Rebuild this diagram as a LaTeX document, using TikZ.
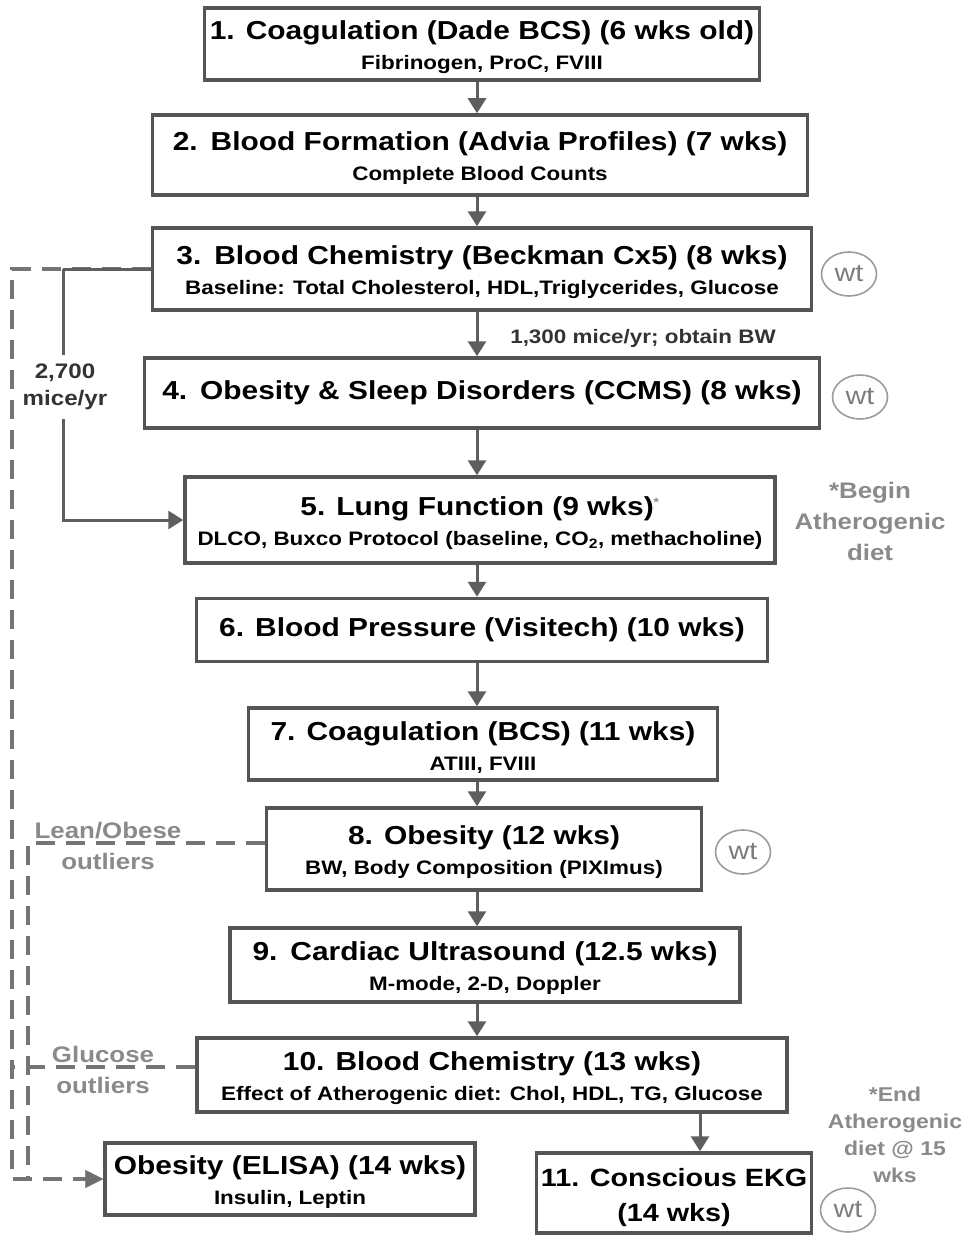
\documentclass[tikz,border=0pt]{standalone}
\usepackage{fontspec}
\setmainfont[FakeStretch=1.15]{Liberation Sans}
\usetikzlibrary{arrows.meta, shapes.geometric}
\definecolor{boxgray}{HTML}{555555}
\definecolor{flowgray}{HTML}{5E5E5E}
\definecolor{notegray}{HTML}{8A8A8A}
\newcommand{\ttlfont}{\fontsize{26}{28}\selectfont\bfseries}
\newcommand{\detail}{\fontsize{19.5}{21}\selectfont\bfseries}
\newcommand{\dietmark}{{\color{notegray}\textsuperscript{\fontsize{12}{12}\selectfont *}}}
\newcommand{\headroom}[1][25pt]{\rule{0pt}{#1}}

\begin{document}
\begin{tikzpicture}[x=1pt, y=-1pt,
    stepbox/.style 2 args={draw=boxgray, line width=3.5pt, fill=white, align=center, inner sep=0pt,
        minimum width=#1, minimum height=#2, font=\ttlfont},
    flow/.style={draw=flowgray, line width=3pt, -{Triangle[width=18pt, length=15pt]}},
    trunk/.style={draw=flowgray, line width=3pt},
    outlier/.style={draw=notegray!85!black, line width=3.5pt, dash pattern=on 19pt off 11pt},
    wt/.style={ellipse, draw=notegray!85, line width=1.6pt, text=notegray!90!black, inner sep=0pt,
        minimum width=55, minimum height=44, font=\fontsize{25}{25}\selectfont},
    note/.style={text=notegray, align=center, font=\fontsize{22.5}{31}\selectfont\bfseries},
    count/.style={text=black!80, align=center, font=\fontsize{19.5}{27}\selectfont\bfseries},
]
\useasboundingbox (0,0) rectangle (965,1236);

% main sequence
\node[stepbox={555}{72}] (coag1) at (482,44) {\headroom 1. Coagulation (Dade BCS) (6 wks old)\\[2pt]\detail Fibrinogen, ProC, FVIII};
\node[stepbox={655}{80}] (blood2) at (480,155) {\headroom 2.\enspace Blood Formation (Advia Profiles) (7 wks)\\[2pt]\detail Complete Blood Counts};
\node[stepbox={659}{82}] (chem3) at (482,269) {\headroom 3.\enspace Blood Chemistry (Beckman Cx5) (8 wks)\\[2pt]\detail Baseline: Total Cholesterol, HDL,Triglycerides, Glucose};
\node[stepbox={675}{70}] (sleep4) at (482,393) {4.\enspace Obesity \& Sleep Disorders (CCMS) (8 wks)};
\node[stepbox={590}{86}] (lung5) at (480,520) {\headroom 5. Lung Function (9 wks)\dietmark\\[2pt]\detail DLCO, Buxco Protocol (baseline, CO\textsubscript{2}, methacholine)};
\node[stepbox={571}{63}] (press6) at (482,630) {6. Blood Pressure (Visitech) (10 wks)};
\node[stepbox={469}{72}] (coag7) at (483,744) {\headroom 7. Coagulation (BCS) (11 wks)\\[2pt]\detail ATIII, FVIII};
\node[stepbox={435}{82}] (obese8) at (484,849) {\headroom 8. Obesity (12 wks)\\[2pt]\detail BW, Body Composition (PIXImus)};
\node[stepbox={510}{74}] (heart9) at (485,965) {\headroom 9.\enspace Cardiac Ultrasound (12.5 wks)\\[2pt]\detail M-mode, 2-D, Doppler};
\node[stepbox={590}{74}] (chem10) at (492,1075) {\headroom 10. Blood Chemistry (13 wks)\\[2pt]\detail Effect of Atherogenic diet: Chol, HDL, TG, Glucose};
\node[stepbox={370}{72}] (elisa) at (290,1179) {\headroom Obesity (ELISA) (14 wks)\\[2pt]\detail Insulin, Leptin};
\node[stepbox={275}{80}, font=\fontsize{25}{27}\selectfont\bfseries] (ekg11) at (674,1193) {\headroom[28pt]11. Conscious EKG\\[8pt](14 wks)};

% weighings and notes
\node[wt] (wt3) at (849,274) {wt};
\node[wt] (wt4) at (860,397) {wt};
\node[wt] (wt8) at (743,852) {wt};
\node[wt] (wt11) at (848,1210) {wt};
\node[count] (bw) at (643,338) {1,300 mice/yr; obtain BW};
\node[note] (begin) at (870,521) {*Begin\\Atherogenic\\diet};
\node[note, font=\fontsize{20}{27}\selectfont\bfseries] (end) at (895,1135) {*End\\Atherogenic\\diet @ 15\\wks};

\coordinate (axis) at (477,0);
\coordinate (axis2) at (700,0);
\coordinate (split) at (63,0);
\coordinate (outer) at (12,0);
\coordinate (inner) at (28,0);

% outlier branches
\draw[outlier] (chem3.west) -- (chem3.west -| outer) -- (elisa.west -| outer) -- (elisa.west);
\draw[outlier] ([yshift=6pt]obese8.west) -- ([yshift=6pt]obese8.west -| inner) -- (inner |- elisa.west);
\draw[outlier] ([yshift=8pt]chem10.west) -- ([yshift=8pt]chem10.west -| outer);
\draw[flowgray!90, -{Triangle[width=18pt, length=18pt]}] ([xshift=-20pt]elisa.west) -- (elisa.west);
\node[note] (lean) at (108,846) {Lean/Obese\\outliers};
\node[note] (gluc) at (103,1070) {Glucose\\outliers};

% 2,700 mice/yr branch
\draw[trunk] (chem3.west) -- (chem3.west -| split);
\draw[flow] (chem3.west -| split) -- (lung5.west -| split) -- (lung5.west);
\node[count, font=\fontsize{21}{27}\selectfont\bfseries, fill=white, inner xsep=1pt, inner ysep=9pt] (mice) at (65,387) {2,700\\mice/yr};

% flow arrows
\foreach \a/\b in {coag1/blood2, blood2/chem3, chem3/sleep4, sleep4/lung5, lung5/press6,
    press6/coag7, coag7/obese8, obese8/heart9, heart9/chem10}
  \draw[flow] (\a.south -| axis) -- (\b.north -| axis);
\draw[flow] (chem10.south -| axis2) -- (ekg11.north -| axis2);
\end{tikzpicture}
\end{document}
